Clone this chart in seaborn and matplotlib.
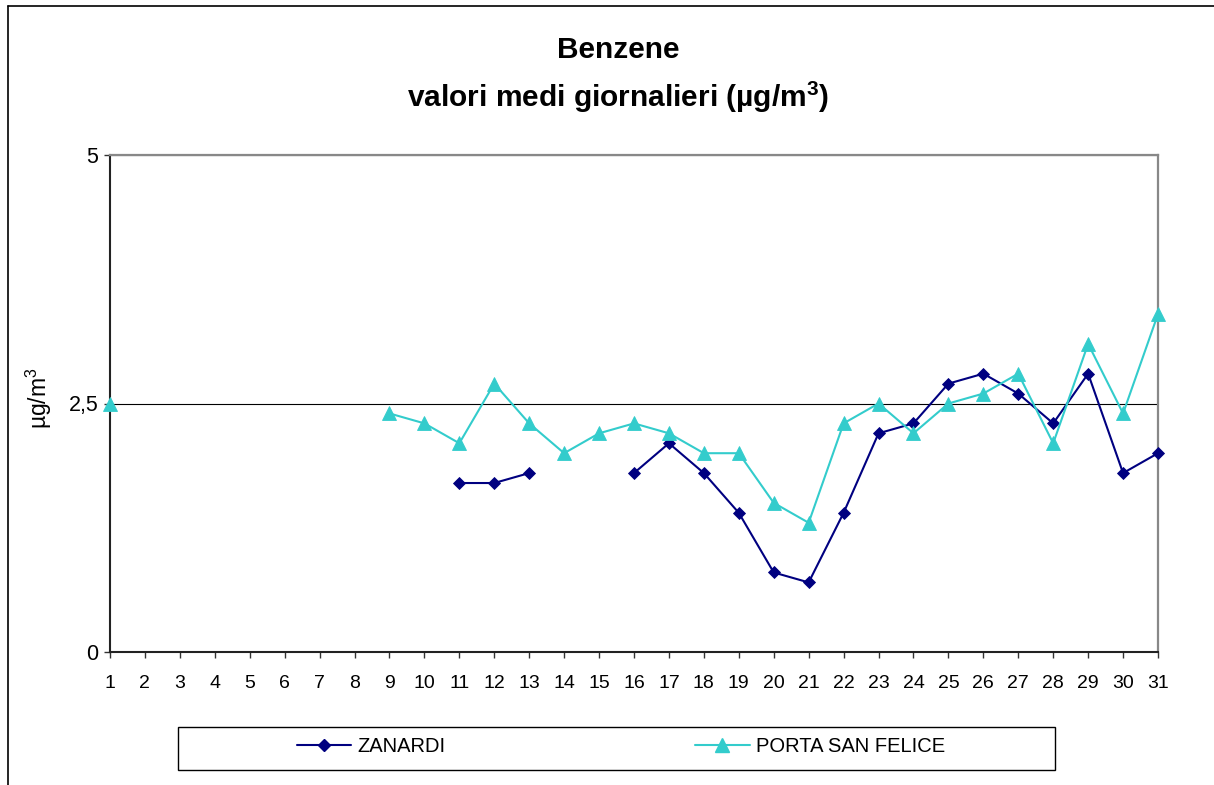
import numpy as np
import pandas as pd
import matplotlib
matplotlib.use("Agg")
import matplotlib.pyplot as plt
from matplotlib.lines import Line2D
from matplotlib.patches import Rectangle
import seaborn as sns

# ---- data ----
days = list(range(1, 32))
zanardi = [np.nan, np.nan, np.nan, np.nan, np.nan, np.nan, np.nan, np.nan, np.nan, np.nan,
           1.7, 1.7, 1.8, np.nan, np.nan,
           1.8, 2.1, 1.8, 1.4, 0.8, 0.7, 1.4, 2.2, 2.3, 2.7, 2.8, 2.6, 2.3, 2.8, 1.8, 2.0]
porta = [2.5, np.nan, np.nan, np.nan, np.nan, np.nan, np.nan, np.nan,
         2.4, 2.3, 2.1, 2.7, 2.3, 2.0, 2.2, 2.3,
         2.2, 2.0, 2.0, 1.5, 1.3, 2.3, 2.5, 2.2, 2.5, 2.6, 2.8, 2.1, 3.1, 2.4, 3.4]
series_names = ["ZANARDI", "PORTA SAN FELICE"]
y_ticks = [0, 2.5, 5]
y_tick_labels = ["0", "2,5", "5"]
title_line1 = "Benzene"
title_line2 = "valori medi giornalieri (µg/m$^\\mathbf{3}$)"
y_label = "µg/m$^3$"

# ---- style ----
sns.set_style("white")
plt.rcParams["font.family"] = ["Liberation Sans", "DejaVu Sans"]
plt.rcParams["mathtext.fontset"] = "custom"
plt.rcParams["mathtext.rm"] = "Liberation Sans"
plt.rcParams["mathtext.it"] = "Liberation Sans:italic"
plt.rcParams["mathtext.bf"] = "Liberation Sans:bold"
for k in ["text.color", "axes.labelcolor", "xtick.color", "ytick.color"]:
    plt.rcParams[k] = "black"

W, H = 1214, 785
fig = plt.figure(figsize=(W / 100, H / 100), dpi=100)
fig.patch.set_facecolor("white")
ax = fig.add_axes([110 / W, 1 - 652 / H, (1158 - 110) / W, (652 - 155) / H])
ax.set_facecolor("white")

styles = {
    "ZANARDI": dict(color="#000080", marker="D", markersize=6.5),
    "PORTA SAN FELICE": dict(color="#33CCCC", marker="^", markersize=10),
}

for name, vals in zip(series_names, [zanardi, porta]):
    df = pd.DataFrame({"day": days, "value": vals})
    df["seg"] = df["value"].isna().cumsum()
    df = df.dropna()
    st = styles[name]
    sns.lineplot(data=df, x="day", y="value", units="seg", estimator=None,
                 color=st["color"], marker=st["marker"], markersize=st["markersize"],
                 markeredgecolor=st["color"], markeredgewidth=0.6,
                 linewidth=1.5, ax=ax, legend=False, clip_on=False, zorder=3)

ax.set_xlim(1, 31)
ax.set_ylim(0, 5)
ax.set_xticks(days)
ax.set_xticklabels([str(d) for d in days])
ax.set_yticks(y_ticks)
ax.set_yticklabels(y_tick_labels)
ax.set_xlabel("")
ax.set_ylabel(y_label, fontsize=16.5)
ax.yaxis.set_label_coords(-0.053, 0.51)

ax.grid(axis="y", color="black", linewidth=0.8)
ax.grid(axis="x", visible=False)
ax.set_axisbelow(True)

for s in ["left", "bottom"]:
    ax.spines[s].set_color("#222222")
    ax.spines[s].set_linewidth(1.5)
for s in ["top", "right"]:
    ax.spines[s].set_color("#888888")
    ax.spines[s].set_linewidth(1.6)

ax.tick_params(axis="x", direction="out", length=4.5, width=1, color="#333333",
               labelsize=14, pad=12, bottom=True)
ax.tick_params(axis="y", direction="out", length=4.5, width=1, color="#333333",
               labelsize=15.5, pad=4, left=True)

# titles
tx = 618 / W
fig.text(tx, 1 - 50 / H, title_line1, ha="center", va="center",
         fontsize=21.5, fontweight="bold")
fig.text(tx, 1 - 97 / H, title_line2, ha="center", va="center",
         fontsize=21.5, fontweight="bold")

# legend
handles = [Line2D([], [], color=styles[n]["color"], marker=styles[n]["marker"],
                  markersize=styles[n]["markersize"], markeredgecolor=styles[n]["color"],
                  linewidth=1.5) for n in series_names]
fig.legend(handles, series_names, loc="center left",
           bbox_to_anchor=(297 / W, 1 - 747 / H), ncol=2, frameon=False,
           fontsize=14.5, handlelength=2.7, handletextpad=0.3, columnspacing=12.4,
           borderpad=0, borderaxespad=0)
fig.add_artist(Rectangle((178 / W, 1 - 770 / H), (1055 - 178) / W, 43 / H,
                         transform=fig.transFigure, fill=False, edgecolor="black",
                         linewidth=1.0))

# outer chart frame
fig.add_artist(Line2D([8 / W, 1.0], [1 - 6 / H, 1 - 6 / H], transform=fig.transFigure,
                      color="black", linewidth=1.2))
fig.add_artist(Line2D([8 / W, 8 / W], [0.0, 1 - 6 / H], transform=fig.transFigure,
                      color="black", linewidth=1.2))

fig.savefig("out.png", dpi=100, facecolor="white")
